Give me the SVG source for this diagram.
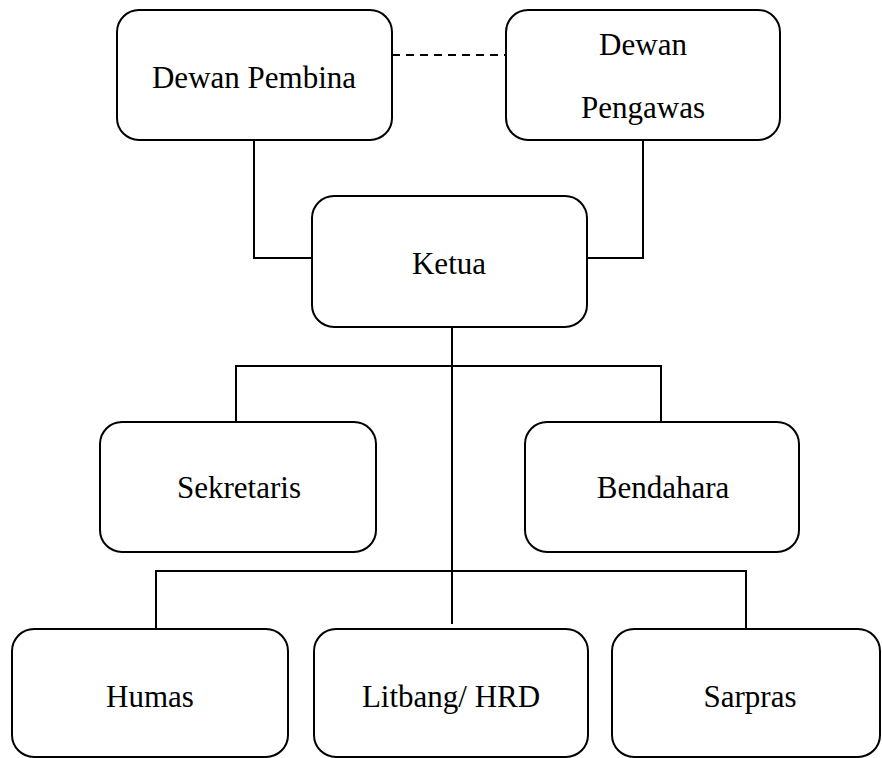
<svg xmlns="http://www.w3.org/2000/svg" width="882" height="758" viewBox="0 0 882 758">
<style>
.box{fill:#fff;stroke:#000;stroke-width:2}
.lbl{font-family:"Liberation Serif","Times New Roman",serif;font-size:31px;fill:#000;text-anchor:middle}
.ln{fill:none;stroke:#000;stroke-width:2}
.dash{fill:none;stroke:#000;stroke-width:2;stroke-dasharray:8 6}
</style>
<rect width="882" height="758" fill="#fff"/>
<g id="connectors">
<line class="dash" x1="392" y1="55" x2="506" y2="55"/>
<polyline class="ln" points="254,140 254,258 312,258"/>
<polyline class="ln" points="643,140 643,258 587,258"/>
<line class="ln" x1="452" y1="327" x2="452" y2="624"/>
<polyline class="ln" points="236,422 236,366 661,366 661,424"/>
<polyline class="ln" points="156,628 156,571 746,571 746,628"/>
</g>
<g id="dewan-pembina">
<rect class="box" x="117" y="10" width="275" height="130" rx="22"/>
<text class="lbl" x="254" y="88">Dewan Pembina</text>
</g>
<g id="dewan-pengawas">
<rect class="box" x="506" y="10" width="274" height="130" rx="22"/>
<text class="lbl" x="643" y="55">Dewan</text>
<text class="lbl" x="643" y="118">Pengawas</text>
</g>
<g id="ketua">
<rect class="box" x="312" y="196" width="275" height="131" rx="22"/>
<text class="lbl" x="449" y="274">Ketua</text>
</g>
<g id="sekretaris">
<rect class="box" x="100" y="422" width="276" height="130" rx="22"/>
<text class="lbl" x="239" y="498">Sekretaris</text>
</g>
<g id="bendahara">
<rect class="box" x="525" y="422" width="274" height="130" rx="22"/>
<text class="lbl" x="663" y="498">Bendahara</text>
</g>
<g id="humas">
<rect class="box" x="12" y="629" width="276" height="128" rx="22"/>
<text class="lbl" x="150" y="707">Humas</text>
</g>
<g id="litbang-hrd">
<rect class="box" x="314" y="629" width="274" height="128" rx="22"/>
<text class="lbl" x="451" y="707">Litbang/ HRD</text>
</g>
<g id="sarpras">
<rect class="box" x="612" y="629" width="268" height="128" rx="22"/>
<text class="lbl" x="750" y="707">Sarpras</text>
</g>
</svg>
